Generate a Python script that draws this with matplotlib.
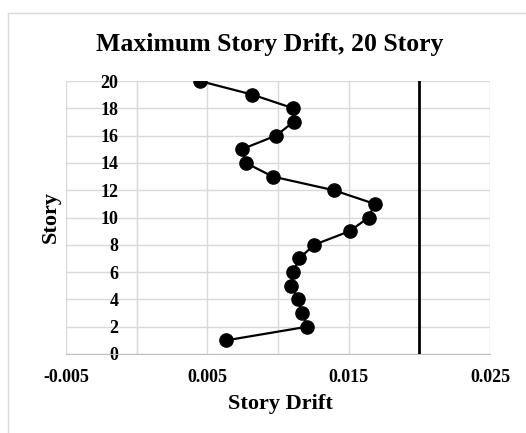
import matplotlib
matplotlib.use("Agg")
import matplotlib.pyplot as plt
from matplotlib.lines import Line2D

stories = list(range(1, 21))
drift = [0.00634, 0.01207, 0.01171, 0.01143, 0.01092, 0.01108, 0.01150, 0.01256,
         0.01507, 0.01641, 0.01683, 0.01394, 0.00962, 0.00772, 0.00744, 0.00986,
         0.01110, 0.01108, 0.00819, 0.00446]
limit_x = [0.02, 0.02]
limit_y = [0, 20]
xticks = [-0.005, 0.0, 0.005, 0.01, 0.015, 0.02, 0.025]
xticklabels = ["-0.005", "", "0.005", "", "0.015", "", "0.025"]
yticks = list(range(0, 21, 2))

serif = ["Liberation Serif", "DejaVu Serif"]

fig = plt.figure(figsize=(5.26, 4.33), dpi=100)
W, H = 526, 433
ax = fig.add_axes([66 / W, 1 - 354 / H, (490 - 66) / W, (354 - 81) / H])

ax.plot(drift, stories, color="black", lw=1.6, marker="o", markersize=9.5, zorder=3)
ax.plot(limit_x, limit_y, color="black", lw=2.0, zorder=3)

ax.set_xlim(-0.005, 0.025)
ax.set_ylim(0, 20)
ax.set_xticks(xticks)
ax.set_xticklabels(xticklabels)
ax.set_yticks(yticks)
ax.grid(True, color="#d9d9d9", lw=1.0)
ax.set_axisbelow(True)

for s in ["top", "right"]:
    ax.spines[s].set_visible(False)
ax.spines["left"].set_position(("data", 0))
ax.spines["left"].set_color("#d9d9d9")
ax.spines["bottom"].set_color("#bfbfbf")
ax.tick_params(axis="both", length=0)
ax.tick_params(axis="y", pad=13)
ax.tick_params(axis="x", pad=11)
for lab in ax.get_xticklabels() + ax.get_yticklabels():
    lab.set_fontfamily(serif)
    lab.set_fontweight("bold")
    lab.set_fontsize(13)

fig.text(270 / W, 1 - 45 / H, "Maximum Story Drift, 20 Story", ha="center", va="center",
         fontfamily=serif, fontweight="bold", fontsize=18.5)
fig.text(280 / W, 1 - 404 / H, "Story Drift", ha="center", va="center",
         fontfamily=serif, fontweight="bold", fontsize=16)
fig.text(51 / W, 1 - 217 / H, "Story", ha="center", va="center", rotation=90,
         fontfamily=serif, fontweight="bold", fontsize=16)

# chart area border (left and top visible)
fig.add_artist(Line2D([8 / W, 8 / W], [0, 1 - 13 / H], transform=fig.transFigure,
                      color="#d9d9d9", lw=1.0))
fig.add_artist(Line2D([8 / W, 1], [1 - 13 / H, 1 - 13 / H], transform=fig.transFigure,
                      color="#d9d9d9", lw=1.0))

fig.savefig("out.png", dpi=100)
